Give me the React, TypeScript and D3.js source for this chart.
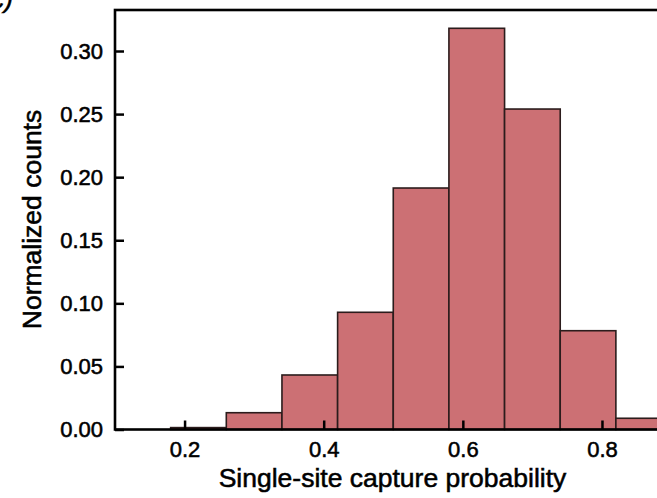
import React, { useEffect, useRef } from "react";
import * as d3 from "d3";

// Histogram bins (left edges) and normalized counts
const binStarts = [0.18, 0.26, 0.34, 0.42, 0.5, 0.58, 0.66, 0.74, 0.82];
const binWidth = 0.08;
const counts = [0.0015, 0.0133, 0.0432, 0.0929, 0.1914, 0.318, 0.254, 0.0783, 0.0089];
const xTicks = [0.2, 0.4, 0.6, 0.8];
const yTicks = [0, 0.05, 0.1, 0.15, 0.2, 0.25, 0.3];
const xLabel = "Single-site capture probability";
const yLabel = "Normalized counts";
const panelLabel = "(c)";

const W = 657;
const H = 498;
const FONT = "'Liberation Sans', Arial, Helvetica, sans-serif";

export default function App() {
  const ref = useRef<SVGSVGElement | null>(null);

  useEffect(() => {
    const svg = d3.select(ref.current);
    svg.selectAll("*").remove();

    const x = d3.scaleLinear().domain([0.1, 1.0]).range([115, 741.1]);
    const y = d3.scaleLinear().domain([0, 0.3325]).range([429.5, 10]);

    const data = binStarts.map((s, i) => ({ x0: s, x1: s + binWidth, v: counts[i] }));

    // bars
    svg
      .append("g")
      .selectAll("rect")
      .data(data)
      .join("rect")
      .attr("x", (d) => x(d.x0))
      .attr("y", (d) => y(d.v))
      .attr("width", (d) => x(d.x1) - x(d.x0))
      .attr("height", (d) => y(0) - y(d.v))
      .attr("fill", "#cc7074")
      .attr("stroke", "#2b1c1c")
      .attr("stroke-width", 1.6);

    const styleText = (sel: any, size: number) =>
      sel
        .attr("font-family", FONT)
        .attr("font-size", size)
        .attr("fill", "#000")
        .attr("stroke", "#000")
        .attr("stroke-width", 0.55);

    // x axis
    const gx = svg
      .append("g")
      .attr("transform", `translate(0,${y(0)})`)
      .call(
        d3
          .axisBottom(x)
          .tickValues(xTicks)
          .tickSize(-9)
          .tickPadding(12)
          .tickFormat(d3.format(".1f") as any)
      );
    gx.select(".domain").remove();
    gx.selectAll("line").attr("stroke", "#000").attr("stroke-width", 2.5);
    styleText(gx.selectAll("text"), 22);

    // y axis
    const gy = svg
      .append("g")
      .attr("transform", `translate(${x(0.1)},0)`)
      .call(
        d3
          .axisLeft(y)
          .tickValues(yTicks)
          .tickSize(-9)
          .tickPadding(12)
          .tickFormat(d3.format(".2f") as any)
      );
    gy.select(".domain").remove();
    gy.selectAll("line").attr("stroke", "#000").attr("stroke-width", 2.5);
    styleText(gy.selectAll("text"), 22);

    // frame
    const [x0, x1] = x.range();
    const [y0, y1] = y.range();
    svg
      .append("rect")
      .attr("x", x0)
      .attr("y", y1)
      .attr("width", x1 - x0)
      .attr("height", y0 - y1)
      .attr("fill", "none")
      .attr("stroke", "#000")
      .attr("stroke-width", 2.6);

    // axis labels
    styleText(
      svg
        .append("text")
        .attr("x", 392.5)
        .attr("y", 487)
        .attr("text-anchor", "middle")
        .text(xLabel),
      26.5
    );

    styleText(
      svg
        .append("text")
        .attr("transform", `translate(41,219.5) rotate(-90)`)
        .attr("text-anchor", "middle")
        .text(yLabel),
      26.5
    );

    styleText(
      svg
        .append("text")
        .attr("x", 13)
        .attr("y", 7.5)
        .attr("text-anchor", "end")
        .attr("font-style", "italic")
        .text(panelLabel),
      26
    );
  }, []);

  return (
    <svg
      ref={ref}
      width={W}
      height={H}
      style={{ position: "absolute", left: 0, top: 0, background: "#fff", overflow: "hidden" }}
    />
  );
}
